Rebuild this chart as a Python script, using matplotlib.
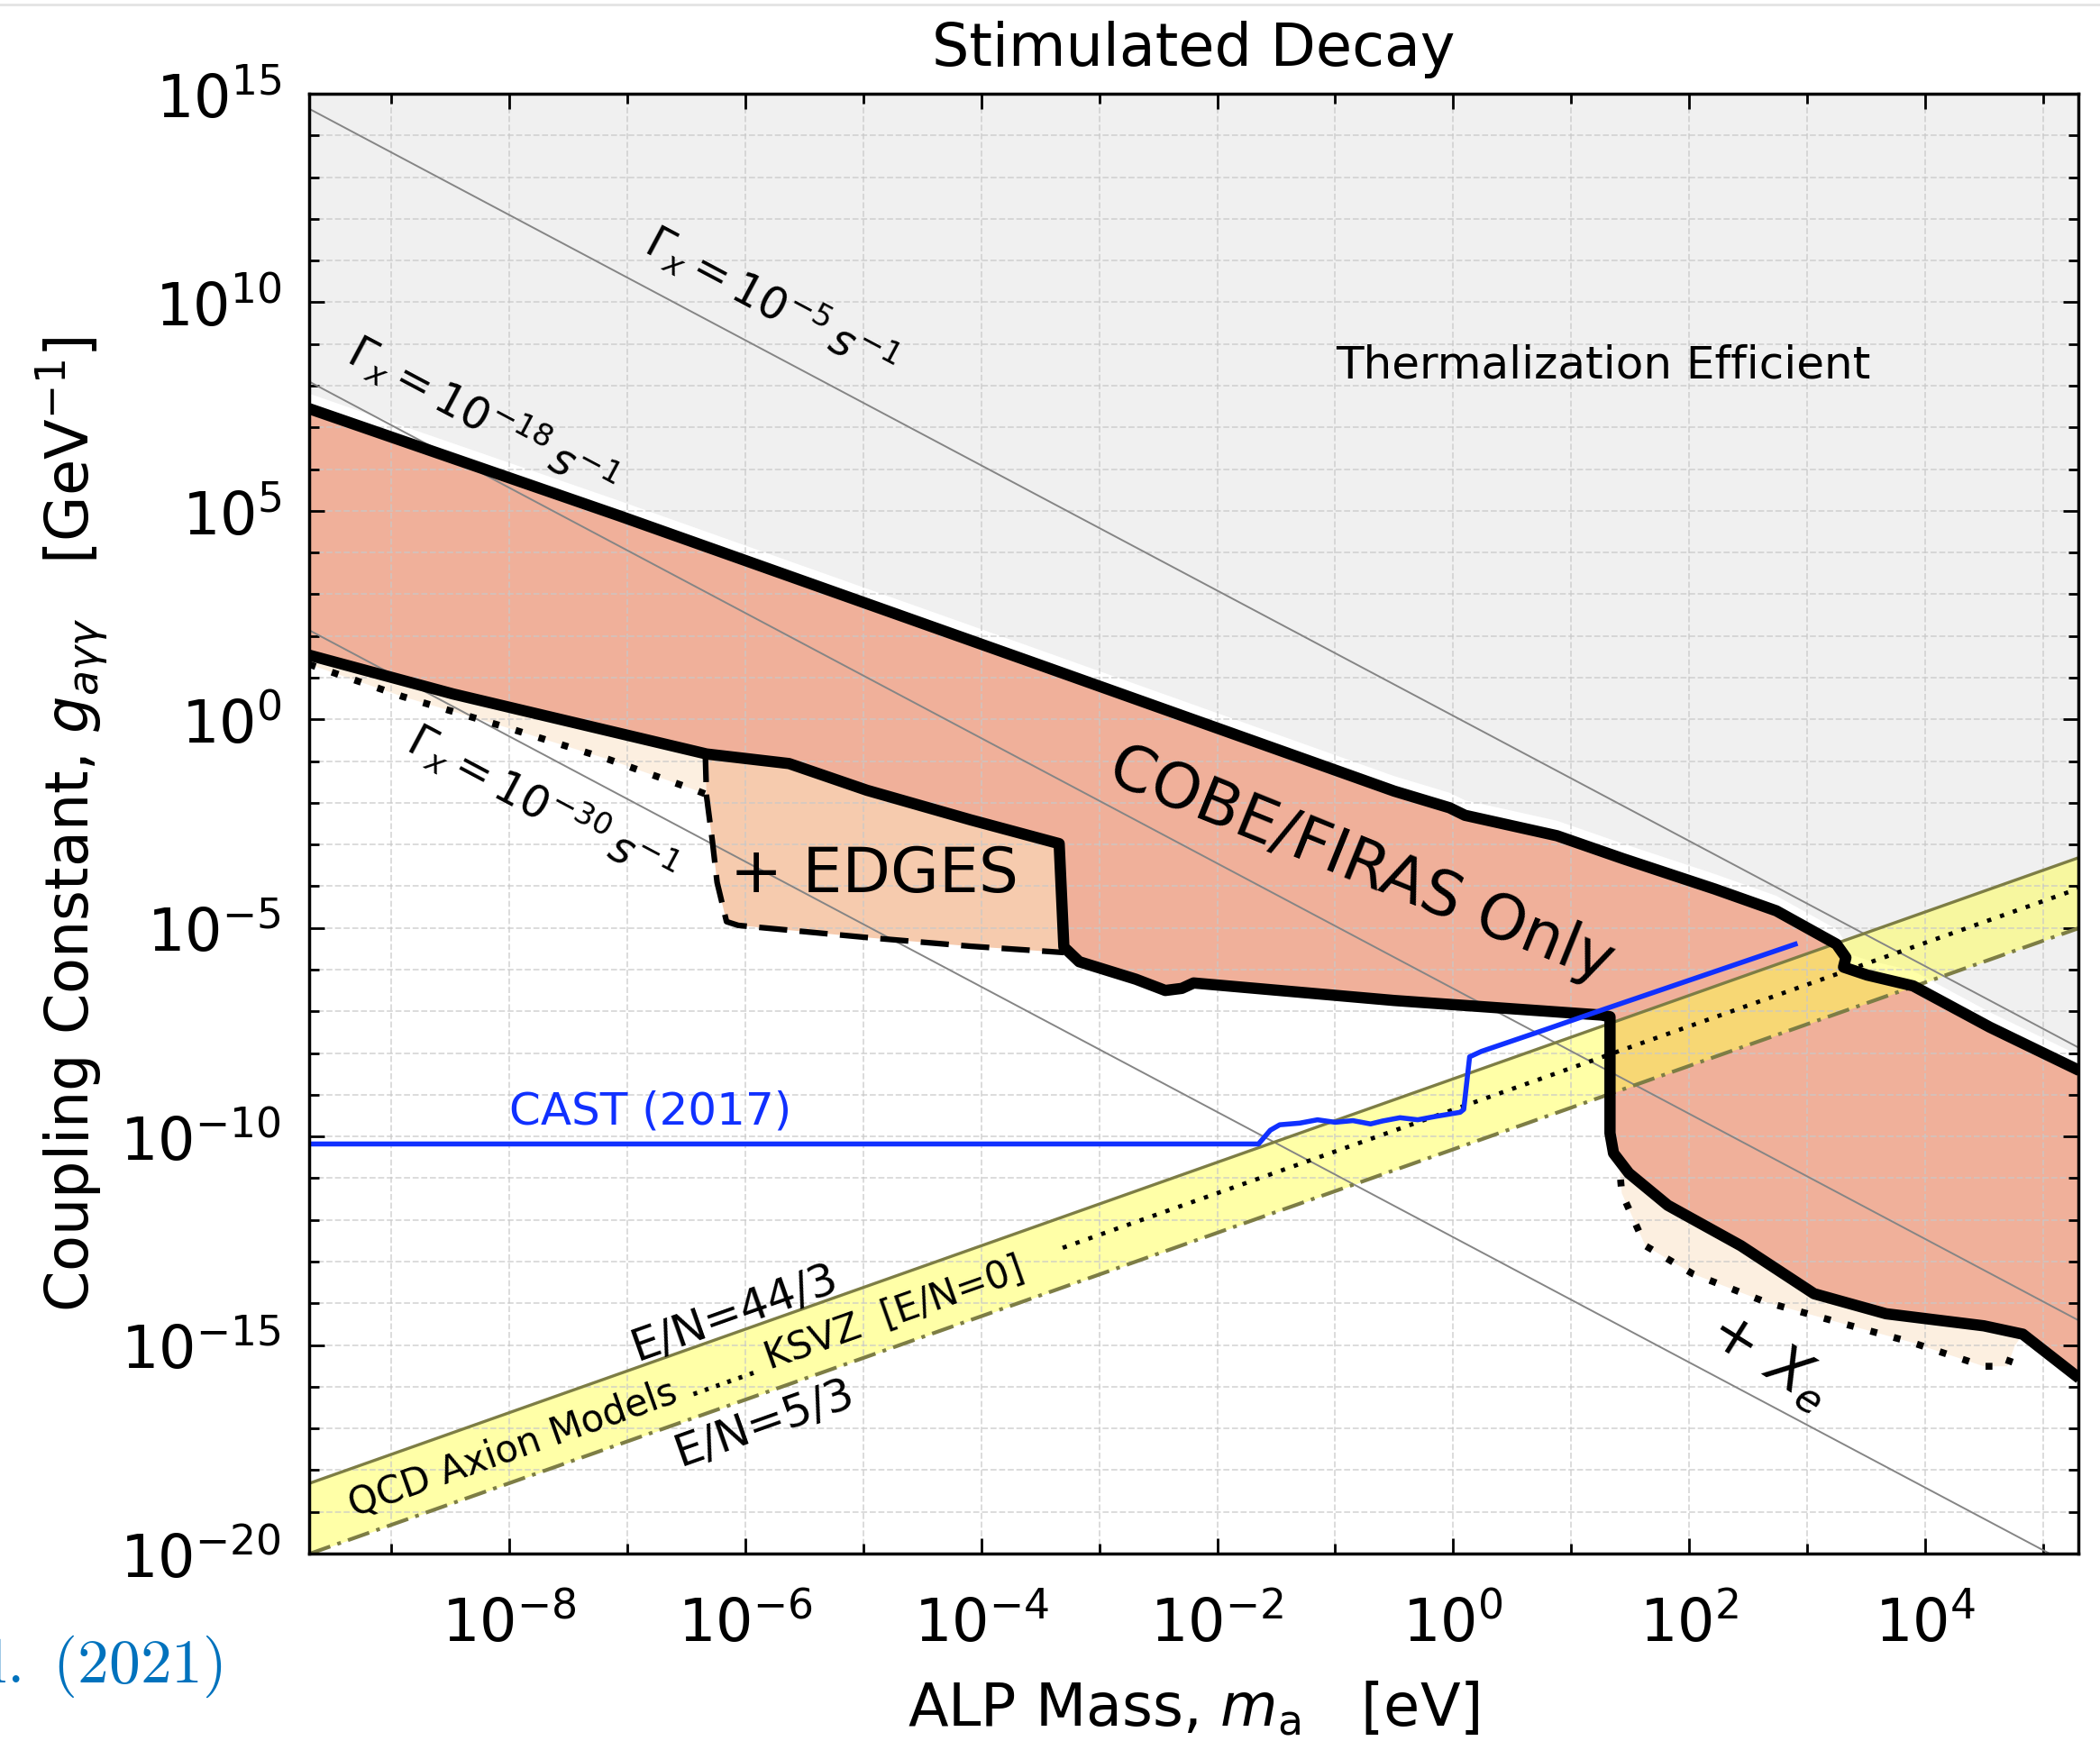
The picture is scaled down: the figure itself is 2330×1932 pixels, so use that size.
import numpy as np
import matplotlib
matplotlib.use('Agg')
import matplotlib.pyplot as plt
from matplotlib.lines import Line2D

# all values are log10(m_a / eV) and log10(g / GeV^-1)

# COBE/FIRAS region, upper and lower edge
cobe_hi_logm = [-9.70, -7.07, -3.60, -0.50, -0.03, 0.10, 0.88, 1.44, 2.22, 2.74, 3.25,
                3.33, 3.31, 3.51, 3.90, 4.55, 5.31]
cobe_hi_logg = [7.45, 4.88, 1.40, -1.72, -2.12, -2.30, -2.79, -3.34, -4.07, -4.59, -5.39,
                -5.71, -5.94, -6.13, -6.39, -7.38, -8.42]
cobe_lo_logm = [-9.70, -8.48, -6.33, -5.63, -4.97, -4.09, -3.34, -3.30, -3.17, -2.69,
                -2.44, -2.30, -2.20, -0.50, 1.26, 1.33, 1.33, 1.36, 1.49, 1.82,
                2.44, 3.06, 3.67, 4.50, 4.83, 5.31]
cobe_lo_logg = [1.54, 0.61, -0.83, -1.06, -1.70, -2.41, -2.98, -5.46, -5.81, -6.23,
                -6.50, -6.45, -6.32, -6.74, -7.09, -7.13, -9.92, -10.40, -10.88, -11.65,
                -12.62, -13.77, -14.25, -14.54, -14.74, -15.80]

# dotted extension at low mass
dot_left_logm = [-9.70, -8.91, -8.03, -7.16, -6.42, -6.33]
dot_left_logg = [1.32, 0.55, -0.19, -0.96, -1.70, -1.80]

# + EDGES (dashed edge)
edges_logm = [-6.34, -6.33, -6.28, -6.24, -6.16, -6.06, -4.97, -4.09, -3.30]
edges_logg = [-0.83, -1.83, -2.92, -3.91, -4.85, -4.94, -5.23, -5.44, -5.59]

# + X_e (dotted edge)
xe_logm = [1.33, 1.40, 1.43, 1.63, 2.03, 2.65, 3.26, 3.88, 4.50, 4.70, 4.76]
xe_logg = [-9.92, -10.40, -11.36, -12.62, -13.29, -13.97, -14.45, -14.93, -15.51, -15.51, -15.03]

# CAST (2017)
cast_logm = [-9.70, -1.65, -1.55, -1.47, -1.30, -1.15, -1.00, -0.85, -0.70, -0.60,
             -0.45, -0.30, -0.15, 0.06, 0.09, 0.14, 0.24, 0.77, 1.26, 2.90]
cast_logg = [-10.18, -10.18, -9.85, -9.72, -9.68, -9.60, -9.66, -9.62, -9.70, -9.63,
             -9.55, -9.60, -9.52, -9.42, -9.35, -8.09, -7.96, -7.45, -6.97, -5.39]

# constant decay-rate lines, Gamma_x = 10^k s^-1
gamma_exps = ['-5', '-18', '-30']
gamma_logm = [-9.70, 5.31]
gamma_logg = [[14.64, -7.88], [8.10, -14.42], [2.14, -20.38]]
gamma_label_pos = [(-5.78, 10.02), (-8.23, 7.29), (-7.72, -2.02)]

# QCD axion band
axion_logm = [-9.70, 5.31]
en443_logg = [-18.32, -3.31]
en53_logg = [-20.01, -5.00]
ksvz_logm = [-3.31, 5.31]
ksvz_logg = [-12.67, -4.05]


def pw(a):
    return 10.0 ** np.asarray(a, dtype=float)


def part(lm, lg, lo, hi):
    lm = np.asarray(lm)
    lg = np.asarray(lg)
    keep = (lm >= lo) & (lm <= hi)
    return lm[keep], lg[keep]


salmon = '#f0b09a'
peach = '#f6cbae'
cream = '#fcefe0'
olive = '#7d7d45'
blue = '#1030ff'

fig = plt.figure(figsize=(23.30, 19.33), dpi=100)
ax = fig.add_axes([0.1472, 0.1076, 0.8425, 0.8381])
ax.set_xscale('log')
ax.set_yscale('log')

# thermalization efficient region (grey, slightly above the COBE edge)
th_m = np.concatenate([cobe_hi_logm, [5.31, -9.70]])
th_g = np.concatenate([np.asarray(cobe_hi_logg) + 0.36, [16, 16]])
ax.fill(pw(th_m), pw(th_g), color='#f0f0f0', lw=0, zorder=0.8)

# COBE/FIRAS only
reg_m = np.concatenate([cobe_hi_logm, cobe_lo_logm[::-1]])
reg_g = np.concatenate([cobe_hi_logg, cobe_lo_logg[::-1]])
ax.fill(pw(reg_m), pw(reg_g), color=salmon, lw=0, zorder=1)

# dotted low-mass extension
m, g = part(cobe_lo_logm, cobe_lo_logg, -9.70, -6.33)
ax.fill(pw(np.concatenate([dot_left_logm, m[::-1]])),
        pw(np.concatenate([dot_left_logg, g[::-1]])), color=cream, lw=0, zorder=1)

# + EDGES
m, g = part(cobe_lo_logm, cobe_lo_logg, -6.33, -3.30)
ax.fill(pw(np.concatenate([edges_logm, m[::-1]])),
        pw(np.concatenate([edges_logg, g[::-1]])), color=peach, lw=0, zorder=1)

# + X_e
m, g = part(cobe_lo_logm, cobe_lo_logg, 1.33, 4.83)
ax.fill(pw(np.concatenate([xe_logm, m[::-1]])),
        pw(np.concatenate([xe_logg, g[::-1]])), color=cream, lw=0, zorder=1)

# QCD axion band
ax.fill_between(pw(axion_logm), pw(en53_logg), pw(en443_logg),
                color='#ffff50', alpha=0.5, lw=0, zorder=1.2)
ax.plot(pw(axion_logm), pw(en443_logg), color=olive, lw=2.4, zorder=2.1)
ax.plot(pw(axion_logm), pw(en53_logg), color=olive, lw=3,
        dashes=(6, 2, 1, 2), zorder=2.1)
ax.plot(pw(ksvz_logm), pw(ksvz_logg), color='black', lw=3.4,
        dashes=(1, 2.2), zorder=2.1)

# decay-rate lines
for lg, k, pos in zip(gamma_logg, gamma_exps, gamma_label_pos):
    ax.plot(pw(gamma_logm), pw(lg), color='#858585', lw=1.4, zorder=2)
    ax.text(10 ** pos[0], 10 ** pos[1], r'$\Gamma_x = 10^{%s}\, s^{-1}$' % k,
            rotation=-28, ha='center', va='center', fontsize=35, zorder=5)

# boundaries
ax.plot(pw(cobe_hi_logm), pw(cobe_hi_logg), color='black', lw=9,
        solid_joinstyle='round', solid_capstyle='butt', zorder=3)
ax.plot(pw(cobe_lo_logm), pw(cobe_lo_logg), color='black', lw=9,
        solid_joinstyle='round', solid_capstyle='butt', zorder=3)
ax.plot(pw(dot_left_logm), pw(dot_left_logg), color='black', lw=5.5,
        dashes=(1, 2.5), zorder=3)
ax.plot(pw(xe_logm), pw(xe_logg), color='black', lw=5.5,
        dashes=(1, 2.5), zorder=3)
ax.plot(pw(edges_logm), pw(edges_logg), color='black', lw=4.5,
        dashes=(5, 2.2), zorder=3)

# CAST
ax.plot(pw(cast_logm), pw(cast_logg), color=blue, lw=4, zorder=3.5)
ax.text(1e-8, 10 ** -9.89, 'CAST (2017)', color=blue, fontsize=36,
        ha='left', va='bottom', zorder=5)

# region labels
ax.text(10 ** 1.27, 10 ** 8.51, 'Thermalization Efficient', fontsize=36,
        ha='center', va='center', zorder=5)
ax.text(10 ** -0.78, 10 ** -3.47, 'COBE/FIRAS Only', fontsize=50,
        rotation=-22, ha='center', va='center', zorder=5)
ax.text(10 ** -4.91, 10 ** -3.69, '+ EDGES', fontsize=50,
        ha='center', va='center', zorder=5)
ax.text(10 ** 2.68, 10 ** -15.35, r'$+\ X_e$', fontsize=46,
        rotation=-32, ha='center', va='center', zorder=5)
ax.text(10 ** -6.5, 10 ** -15.99, 'QCD Axion Models ...... KSVZ  [E/N=0]',
        fontsize=30, rotation=19.5, ha='center', va='center', zorder=5)
ax.text(10 ** -6.09, 10 ** -14.22, 'E/N=44/3', fontsize=36,
        rotation=19.5, ha='center', va='center', zorder=5)
ax.text(10 ** -5.84, 10 ** -16.86, 'E/N=5/3', fontsize=36,
        rotation=19.5, ha='center', va='center', zorder=5)

# axes
ax.set_xlim(2e-10, 2e5)
ax.set_ylim(1e-20, 1e15)
ax.set_xticks(10.0 ** np.arange(-8, 5, 2))
ax.set_xticks(10.0 ** np.arange(-9, 6), minor=True)
ax.set_yticks(10.0 ** np.arange(-20, 16, 5))
ax.set_yticks(10.0 ** np.arange(-20, 16), minor=True)
ax.xaxis.set_minor_formatter(plt.NullFormatter())
ax.yaxis.set_minor_formatter(plt.NullFormatter())
ax.tick_params(which='both', direction='in', top=True, right=True, width=2)
ax.tick_params(which='major', length=12, labelsize=47)
ax.tick_params(axis='x', which='major', pad=33)
ax.tick_params(axis='y', which='major', pad=22)
ax.tick_params(which='minor', length=8)
ax.set_axisbelow('line')
ax.grid(which='both', ls='--', color='#c8c8c8', alpha=0.7, lw=1.3)
for s in ax.spines.values():
    s.set_linewidth(2.5)
    s.set_zorder(6)

ax.set_title('Stimulated Decay', fontsize=47, pad=23)
ax.set_xlabel(r'ALP Mass, $m_{\rm a}$   [eV]', fontsize=47, labelpad=21)
ax.set_ylabel(r'Coupling Constant, $g_{a\gamma\gamma}$   [GeV$^{-1}$]', fontsize=47, labelpad=8)

fig.text(0.106, 0.034, r'$\mathrm{et\ al.\ (2021)}$', color='#0072bd', fontsize=50,
         ha='right', va='baseline', math_fontfamily='cm')
fig.add_artist(Line2D([0, 1], [0.997, 0.997], color='#e4e4e4', lw=2))

fig.savefig('out.png', dpi=100)
